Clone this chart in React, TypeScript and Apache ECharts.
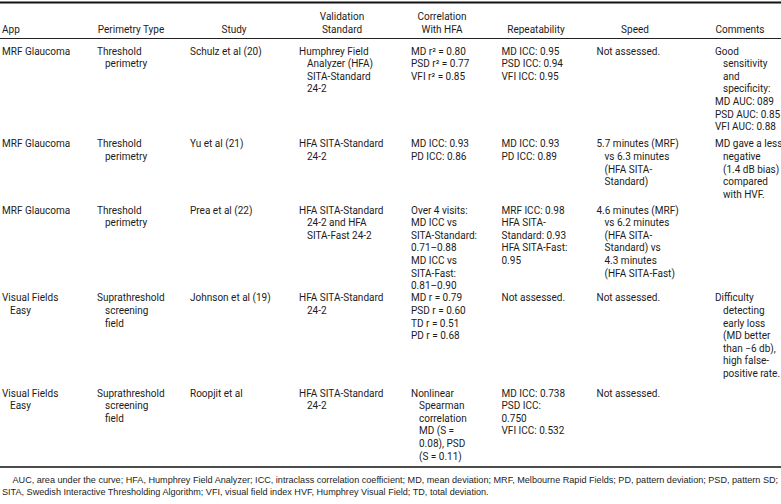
import React, { useEffect, useRef } from "react";
import * as echarts from "echarts";

// ---- Table content (data) ----
const headerLabels: string[][] = [
  ["App"],
  ["Perimetry Type"],
  ["Study"],
  ["Validation", "Standard"],
  ["Correlation", "With HFA"],
  ["Repeatability"],
  ["Speed"],
  ["Comments"],
];

// each cell: list of paragraphs; each paragraph: list of wrapped lines
const appCol: string[][][] = [
  [["MRF Glaucoma"]],
  [["MRF Glaucoma"]],
  [["MRF Glaucoma"]],
  [["Visual Fields", "Easy"]],
  [["Visual Fields", "Easy"]],
];
const perimetryCol: string[][][] = [
  [["Threshold", "perimetry"]],
  [["Threshold", "perimetry"]],
  [["Threshold", "perimetry"]],
  [["Suprathreshold", "screening", "field"]],
  [["Suprathreshold", "screening", "field"]],
];
const studyCol: string[][][] = [
  [["Schulz et al (20)"]],
  [["Yu et al (21)"]],
  [["Prea et al (22)"]],
  [["Johnson et al (19)"]],
  [["Roopjit et al"]],
];
const validationCol: string[][][] = [
  [["Humphrey Field", "Analyzer (HFA)", "SITA-Standard", "24-2"]],
  [["HFA SITA-Standard", "24-2"]],
  [["HFA SITA-Standard", "24-2 and HFA", "SITA-Fast 24-2"]],
  [["HFA SITA-Standard", "24-2"]],
  [["HFA SITA-Standard", "24-2"]],
];
const correlationCol: string[][][] = [
  [["MD r\u00B2 = 0.80"], ["PSD r\u00B2 = 0.77"], ["VFI r\u00B2 = 0.85"]],
  [["MD ICC: 0.93"], ["PD ICC: 0.86"]],
  [["Over 4 visits:"], ["MD ICC vs"], ["SITA-Standard:"], ["0.71\u20130.88"], ["MD ICC vs"], ["SITA-Fast:"], ["0.81\u20130.90"]],
  [["MD r = 0.79"], ["PSD r = 0.60"], ["TD r = 0.51"], ["PD r = 0.68"]],
  [["Nonlinear", "Spearman", "correlation", "MD (S =", "0.08), PSD", "(S = 0.11)"]],
];
const repeatabilityCol: string[][][] = [
  [["MD ICC: 0.95"], ["PSD ICC: 0.94"], ["VFI ICC: 0.95"]],
  [["MD ICC: 0.93"], ["PD ICC: 0.89"]],
  [["MRF ICC: 0.98"], ["HFA SITA-"], ["Standard: 0.93"], ["HFA SITA-Fast:"], ["0.95"]],
  [["Not assessed."]],
  [["MD ICC: 0.738"], ["PSD ICC:"], ["0.750"], ["VFI ICC: 0.532"]],
];
const speedCol: string[][][] = [
  [["Not assessed."]],
  [["5.7 minutes (MRF)", "vs 6.3 minutes", "(HFA SITA-", "Standard)"]],
  [["4.6 minutes (MRF)", "vs 6.2 minutes", "(HFA SITA-", "Standard) vs", "4.3 minutes", "(HFA SITA-Fast)"]],
  [["Not assessed."]],
  [["Not assessed."]],
];
const commentsCol: string[][][] = [
  [["Good", "sensitivity", "and", "specificity:"], ["MD AUC: 089"], ["PSD AUC: 0.85"], ["VFI AUC: 0.88"]],
  [["MD gave a less", "negative", "(1.4 dB bias)", "compared", "with HVF."]],
  [],
  [["Difficulty", "detecting", "early loss", "(MD better", "than \u22126 db),", "high false-", "positive rate."]],
  [],
];
const footnotes: string[] = [
  "AUC, area under the curve; HFA, Humphrey Field Analyzer; ICC, intraclass correlation coefficient; MD, mean deviation; MRF, Melbourne Rapid Fields; PD, pattern deviation; PSD, pattern SD;",
  "SITA, Swedish Interactive Thresholding Algorithm; VFI, visual field index HVF, Humphrey Visual Field; TD, total deviation.",
];

// ---- Layout (not data) ----
const W = 781;
const H = 504;
const FONT = "Roboto, 'Liberation Sans', Arial, sans-serif";
const FOOT_FONT = "'Liberation Sans', Arial, sans-serif";
const FS = 10;
const COLOR = "#1c1c1c";
const colX = [2, 97, 190, 299, 411, 501.5, 596.5, 715];
const headerAlign: ("left" | "center")[] = ["left", "center", "center", "center", "center", "center", "center", "center"];
const headerCX = [2, 131, 234, 342, 442, 536, 635, 740];
const rowY = [51, 143.8, 210, 297.8, 393];
const LH = 12.6;
const INDENT = 8;

export default function App() {
  const ref = useRef<HTMLDivElement>(null);
  useEffect(() => {
    if (!ref.current) return;
    const chart = echarts.init(ref.current, undefined, { renderer: "svg" });
    const cols = [appCol, perimetryCol, studyCol, validationCol, correlationCol, repeatabilityCol, speedCol, commentsCol];
    const g: any[] = [];
    const txt = (x: number, y: number, text: string, align = "left", size = FS, family = FONT) => ({
      type: "text",
      x,
      y,
      silent: true,
      style: {
        text,
        fill: COLOR,
        font: `${size}px ${family}`,
        textAlign: align,
        textVerticalAlign: "middle",
      },
    });
    // rules
    g.push({ type: "line", shape: { x1: 0, y1: 2.5, x2: W, y2: 2.5 }, style: { stroke: "#111", lineWidth: 2 } });
    g.push({ type: "line", shape: { x1: 0, y1: 38.5, x2: W, y2: 38.5 }, style: { stroke: "#222", lineWidth: 1 } });
    g.push({ type: "line", shape: { x1: 0, y1: 467, x2: W, y2: 467 }, style: { stroke: "#111", lineWidth: 1.3 } });
    // headers (bottom aligned)
    headerLabels.forEach((lines, ci) => {
      const baseY = 29.3 - (lines.length - 1) * 13.3;
      lines.forEach((ln, li) => {
        g.push(txt(headerCX[ci], baseY + li * 13.3, ln, headerAlign[ci]));
      });
    });
    // body cells
    cols.forEach((col, ci) => {
      col.forEach((cell, ri) => {
        let line = 0;
        cell.forEach((para) => {
          para.forEach((ln, li) => {
            g.push(txt(colX[ci] + (li > 0 ? INDENT : 0), rowY[ri] + line * LH, ln));
            line++;
          });
        });
      });
    });
    // footnotes
    g.push(txt(12.5, 480, footnotes[0], "left", 9.1, FOOT_FONT));
    g.push(txt(2, 491.8, footnotes[1], "left", 9.1, FOOT_FONT));

    chart.setOption({
      animation: false,
      backgroundColor: "#fff",
      graphic: { elements: g },
    });
    return () => chart.dispose();
  }, []);
  return <div ref={ref} style={{ position: "fixed", left: 0, top: 0, width: W, height: H }} />;
}
